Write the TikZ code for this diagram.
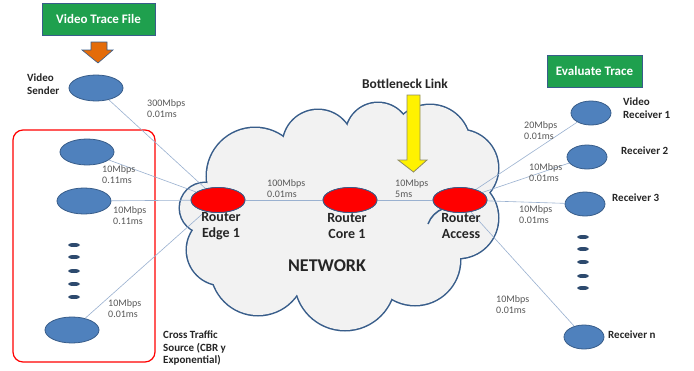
\documentclass[tikz,border=0pt]{standalone}
\usepackage{fontspec}
\setmainfont{Carlito}
\usetikzlibrary{shapes.geometric}

\definecolor{nodeblue}{HTML}{4F81BD}
\definecolor{edgeblue}{HTML}{385D8A}
\definecolor{linkblue}{HTML}{9AB1D0}
\definecolor{boxgreen}{HTML}{1FA04E}
\definecolor{labelgray}{HTML}{595959}
\definecolor{cloudfill}{HTML}{F2F2F2}
\definecolor{arroworange}{HTML}{E46C0A}

\tikzset{
  host/.style={ellipse, draw=edgeblue, fill=nodeblue, line width=0.8pt,
    minimum width=54, minimum height=26, inner sep=0},
  rxhost/.style={host, minimum width=40, minimum height=24},
  router/.style={ellipse, draw=edgeblue, fill=red, line width=0.8pt,
    minimum width=54, minimum height=25, inner sep=0},
  dots/.style={ellipse, fill=edgeblue!80!black, minimum width=12,
    minimum height=4, inner sep=0},
  link/.style={draw=linkblue, line width=0.6pt},
  rate/.style={font=\fontsize{10}{11}\selectfont, text=labelgray,
    align=left, inner sep=0, anchor=west},
  tag/.style={font=\bfseries\fontsize{11}{12.5}\selectfont, text=black!85,
    align=left, inner sep=0, anchor=west},
  rlabel/.style={font=\bfseries\fontsize{14}{16}\selectfont,
    text=black!85, align=center, inner sep=0},
  greenbox/.style={draw=edgeblue, fill=boxgreen, line width=0.8pt,
    text=white, font=\bfseries\fontsize{13}{15}\selectfont, inner sep=0},
}

% lobes of the network cloud: centre x, centre y, radius
\newcommand\cloudlobes{205/208/25, 255/176/48, 318/145/35, 378/135/32,
  430/145/40, 460/168/38, 458/218/40, 415/260/45, 345/280/50,
  258/268/47, 222/250/35}

\begin{document}
\begin{tikzpicture}[x=1pt,y=-1pt]
\useasboundingbox[fill=white] (0,0) rectangle (694,370);

% network cloud: stroke every lobe, then fill them all so only the rim remains
\foreach \cx/\cy/\r in \cloudlobes
  \draw[edgeblue, line width=3pt] (\cx,\cy) circle[radius=\r];
\foreach \cx/\cy/\r in \cloudlobes
  \fill[cloudfill] (\cx,\cy) circle[radius=\r];
\fill[cloudfill] (340,210) ellipse[x radius=115, y radius=70];
\draw[edgeblue, line width=1.5pt] (428,224) arc[start angle=200, end angle=250, radius=26];
\node[font=\bfseries\fontsize{18}{20}\selectfont, text=black!85] (netname) at (327,266) {NETWORK};

% cross traffic group frame
\node[draw=red, line width=1.2pt, rounded corners=10, minimum width=142,
  minimum height=232, inner sep=0] (group) at (84,246) {};

% trace file and sender
\node[greenbox, minimum width=113, minimum height=32] (trace) at (98.5,19) {Video Trace File};
\draw[draw=edgeblue, fill=arroworange, line width=0.6pt]
  (91,42) -- (107,42) -- (107,50) -- (113,50) -- (98,63) -- (82,50) -- (91,50) -- cycle;
\node[host] (vs) at (96,88) {};
\node[tag] (vstag) at (27,84) {Video\\Sender};

% cross traffic sources
\node[host] (c1) at (87,152) {};
\node[host] (c2) at (84,201) {};
\node[host] (cn) at (72,330) {};
\foreach \y [count=\i] in {245,257,271,284,297}
  \node[dots] (cd\i) at (74,\y) {};
\node[tag] (ctag) at (163,348) {Cross Traffic\\Source (CBR y\\Exponential)};

% routers
\node[router] (edge) at (218,200) {};
\node[router] (core) at (350,200) {};
\node[router] (acc) at (460,200) {};

% receivers
\node[greenbox, minimum width=95, minimum height=32] (eval) at (594.5,71) {Evaluate Trace};
\node[rxhost] (r1) at (591,113) {};
\node[rxhost] (r2) at (587,157) {};
\node[rxhost] (r3) at (585,204) {};
\node[rxhost] (rn) at (584,337) {};
\foreach \y [count=\i] in {237,249,262,276,288}
  \node[dots] (rd\i) at (583,\y) {};

% links
\draw[link] (vs) -- (edge);
\draw[link] (c1) -- (edge);
\draw[link] (c2) -- (edge);
\draw[link] (cn) -- (edge);
\draw[link] (edge) -- (core);
\draw[link] (core) -- (acc);
\draw[link] (acc) -- (r1);
\draw[link] (acc) -- (r2);
\draw[link] (acc) -- (r3);
\draw[link] (acc) -- (rn);

% redraw routers above the links
\node[router] at (edge) {};
\node[router] at (core) {};
\node[router] at (acc) {};

% router names
\node[rlabel] (edgename) at (221,226) {Router\\Edge 1};
\node[rlabel] (corename) at (347,226) {Router\\Core 1};
\node[rlabel] (accname) at (461,226) {Router\\Access};

% bottleneck marker
\node[font=\bfseries\fontsize{13.5}{15}\selectfont, text=black!85] (bn) at (405,84) {Bottleneck Link};
\draw[draw=gray!70!olive, fill=yellow, line width=0.8pt]
  (407,95) -- (420,95) -- (420,160) -- (427,160) -- (413.5,172) -- (398,160) -- (407,160) -- cycle;

% link rates
\node[rate] at (147,108.5) {300Mbps\\0.01ms};
\node[rate] at (102,175) {10Mbps\\0.11ms};
\node[rate] at (113,216) {10Mbps\\0.11ms};
\node[rate] at (108,309) {10Mbps\\0.01ms};
\node[rate] at (267,188.5) {100Mbps\\0.01ms};
\node[rate] at (395,188.5) {10Mbps\\5ms};
\node[rate] at (524,130.5) {20Mbps\\0.01ms};
\node[rate] at (529,173) {10Mbps\\0.01ms};
\node[rate] at (519,214.5) {10Mbps\\0.01ms};
\node[rate] at (496,305) {10Mbps\\0.01ms};

% receiver names
\node[tag] at (623,108) {Video\\Receiver 1};
\node[tag] at (621,151) {Receiver 2};
\node[tag] at (612,198) {Receiver 3};
\node[tag] at (608,335) {Receiver n};
\end{tikzpicture}
\end{document}
